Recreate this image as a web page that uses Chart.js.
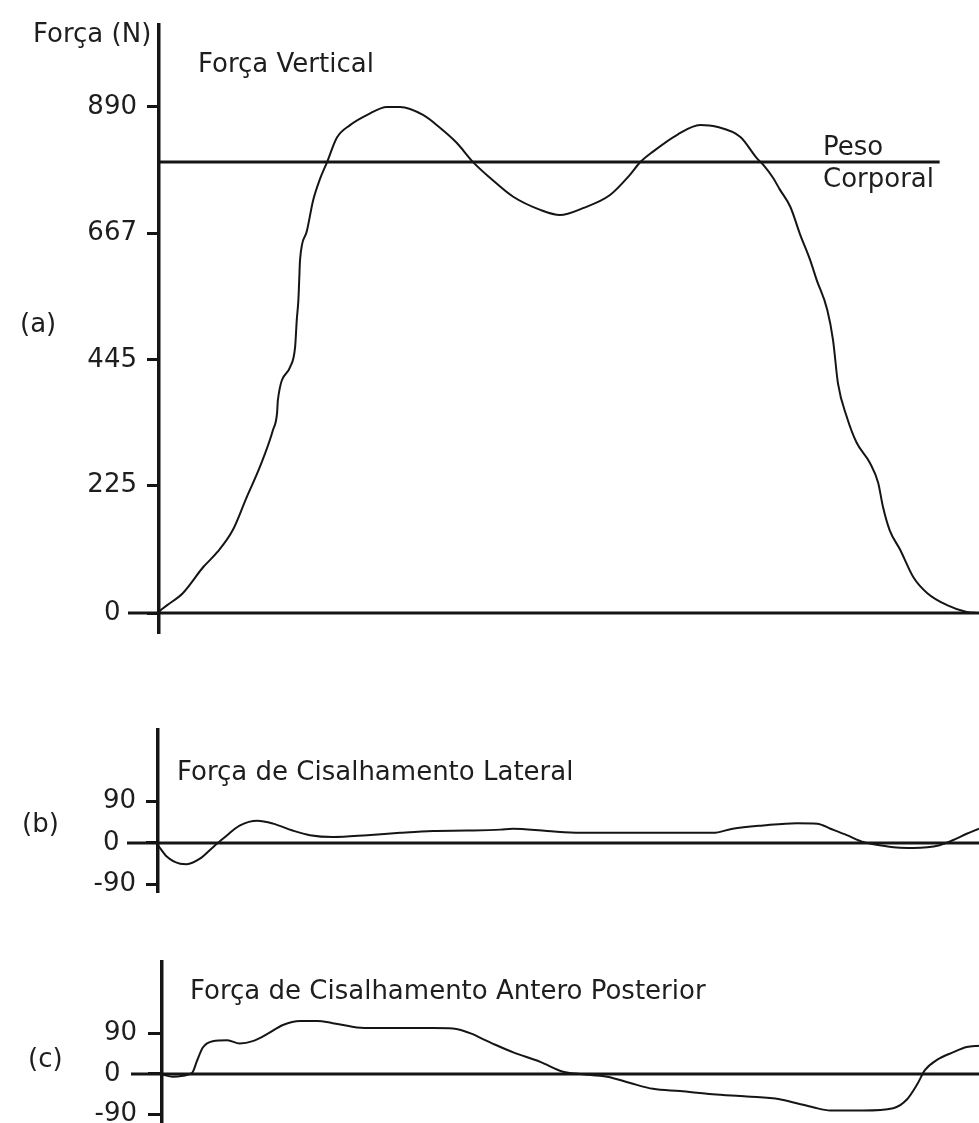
<!DOCTYPE html>
<html>
<head>
<meta charset="utf-8">
<script src="https://cdn.jsdelivr.net/npm/chart.js@4.4.1/dist/chart.umd.min.js"></script>
<style>
  html,body{margin:0;padding:0;background:#fff;}
  #wrap{position:relative;width:979px;height:1123px;overflow:hidden;background:#fff;}
  canvas{position:absolute;left:0;}
  .lbl{position:absolute;font-family:"DejaVu Sans",sans-serif;font-size:26px;line-height:26px;color:#1e1e1e;white-space:nowrap;}
</style>
</head>
<body>
<div id="wrap">
  <canvas id="ca" width="979" height="650" style="top:0px"></canvas>
  <canvas id="cb" width="979" height="240" style="top:700px"></canvas>
  <canvas id="cc" width="979" height="183" style="top:940px"></canvas>

  <div class="lbl" style="left:33px;top:20px">Força (N)</div>
  <div class="lbl" style="left:198px;top:50px">Força Vertical</div>
  <div class="lbl" style="left:20px;top:310px">(a)</div>
  <div class="lbl" style="left:823px;top:133px">Peso</div>
  <div class="lbl" style="left:823px;top:165px">Corporal</div>

  <div class="lbl" style="left:177px;top:758px">Força de Cisalhamento Lateral</div>
  <div class="lbl" style="left:22px;top:810px">(b)</div>

  <div class="lbl" style="left:190px;top:977px">Força de Cisalhamento Antero Posterior</div>
  <div class="lbl" style="left:28px;top:1045px">(c)</div>
</div>
<script>
// ---- Data (time in % of stance, force in N) ----
const tA = [0,1.0,2.9,5.4,7.1,9.0,10.7,12.3,13.9,14.4,14.5,16.0,16.6,16.8,17.0,17.1,17.2,18.0,18.8,19.6,20.5,21.7,23.3,25.4,27.8,29.4,32.2,34.3,36.3,38.3,40.4,43.2,46.5,48.9,51.7,55.0,57.4,58.7,60.2,63.2,66.0,68.0,70.9,72.9,73.7,74.9,75.7,77.0,78.2,79.4,80.2,81.5,82.2,82.8,83.9,85.1,86.7,87.7,88.3,89.1,90.4,92.0,93.7,96.1,98.5,100];
const fA = [3,14,35,81,107,146,204,257,322,352,375,433,468,515,551,586,621,670,726,762,793,836,858,876,890,890,876,853,827,793,765,732,709,700,712,735,770,793,811,841,858,855,837,800,788,765,745,714,665,621,586,533,480,404,344,299,264,229,186,146,111,63,35,14,2,0];

const tB = [0,1.1,2.7,3.5,5.1,6.7,7.9,10.0,12.1,14.0,16.4,18.5,21.3,25.5,29.5,33.5,37.6,41.7,43.2,47.4,51.4,55.4,59.6,63.6,67.6,70.0,73.7,77.8,80.3,81.9,83.9,85.9,87.9,90.0,92.0,95.2,96.8,98.5,100];
const fB = [-5,-30,-45,-46,-34,-9,9,38,48,42,27,17,13,17,22,26,27,29,31,26,22,22,22,22,22,31,38,43,42,31,17,2,-5,-10,-11,-5,6,20,31];

const tC = [0,1.3,2.6,3.7,4.3,5.0,6.2,8.0,9.5,11.1,12.9,14.8,16.9,19.0,20.9,23.0,25.1,29.1,33.2,35.6,38.1,38.9,40.8,43.0,46.3,49.1,51.2,54.5,57.3,60.1,63.4,67.4,71.6,75.6,77.7,79.7,81.8,85.8,89.5,91.2,92.4,93.4,94.9,96.8,98.5,100];
const fC = [-1,-6,-4,3,30,59,73,75,68,73,89,109,118,118,113,106,102,102,102,101,88,81,65,48,27,5,0,-6,-20,-33,-38,-45,-50,-56,-65,-74,-81,-81,-76,-56,-24,9,32,48,60,63];

const ticksA = [0,225,445,667,890];
const ticksB = [-90,0,90];
const ticksC = [-90,0,90];

const bodyWeight = 793;
const bodyWeightEnd = 95.2;

// ---- Helpers ----
const FONT = '"DejaVu Sans", sans-serif';
const INK = '#151515';
function pts(t, f){ return t.map((x,i)=>({x:x, y:f[i]})); }

const zeroLine = {
  id:'zeroLine',
  beforeDatasetsDraw(chart, args, opts){
    const y = chart.scales.y.getPixelForValue(0);
    const ctx = chart.ctx;
    ctx.save();
    ctx.strokeStyle = INK;
    ctx.lineWidth = opts.width || 3;
    ctx.beginPath();
    ctx.moveTo(chart.chartArea.left - opts.extend, y);
    ctx.lineTo(chart.chartArea.right, y);
    ctx.stroke();
    ctx.restore();
  }
};

function make(id, datasets, yMin, yMax, ticks, axisW, tickLen, pad, padTop, padBottom){
  return new Chart(document.getElementById(id), {
    type:'line',
    data:{ datasets: datasets },
    plugins:[zeroLine],
    options:{
      responsive:false,
      devicePixelRatio:1,
      animation:false,
      layout:{ padding:{ top:padTop, bottom:padBottom, left:0, right:0 } },
      plugins:{ legend:{display:false}, tooltip:{enabled:false}, zeroLine:{ extend:31, width:3 } },
      scales:{
        x:{ type:'linear', min:0, max:100, display:false },
        y:{
          type:'linear', min:yMin, max:yMax,
          afterBuildTicks: s => { s.ticks = ticks.map(v => ({value:v})); },
          afterFit: s => { s.width = axisW; s.paddingTop = 0; s.paddingBottom = 0; },
          border:{ display:true, color:INK, width:3.5 },
          grid:{ drawOnChartArea:false, drawTicks:true, tickLength:tickLen, tickWidth:3, tickColor:INK },
          ticks:{
            autoSkip:false, padding:pad, color:'#1e1e1e',
            font:{ family:FONT, size:26 },
            callback: v => v === 0 ? '0\u00a0\u00a0' : String(v)
          }
        }
      }
    }
  });
}

function curve(t, f){
  return { data:pts(t,f), borderColor:INK, borderWidth:2, pointRadius:0, fill:false,
           tension:0.4, cubicInterpolationMode:'monotone' };
}

make('ca', [
  curve(tA, fA),
  { data:[{x:0,y:bodyWeight},{x:bodyWeightEnd,y:bodyWeight}], borderColor:INK, borderWidth:3, pointRadius:0, tension:0 }
], -35, 1034, ticksA, 159, 12, 10, 25, 17);

make('cb', [ curve(tB, fB) ], -106.3, 245.1, ticksB, 158, 12, 10, 30, 48);

make('cc', [ curve(tC, fC) ], -108.9, 248.9, ticksC, 162, 14, 11, 22, 0);
</script>
</body>
</html>
